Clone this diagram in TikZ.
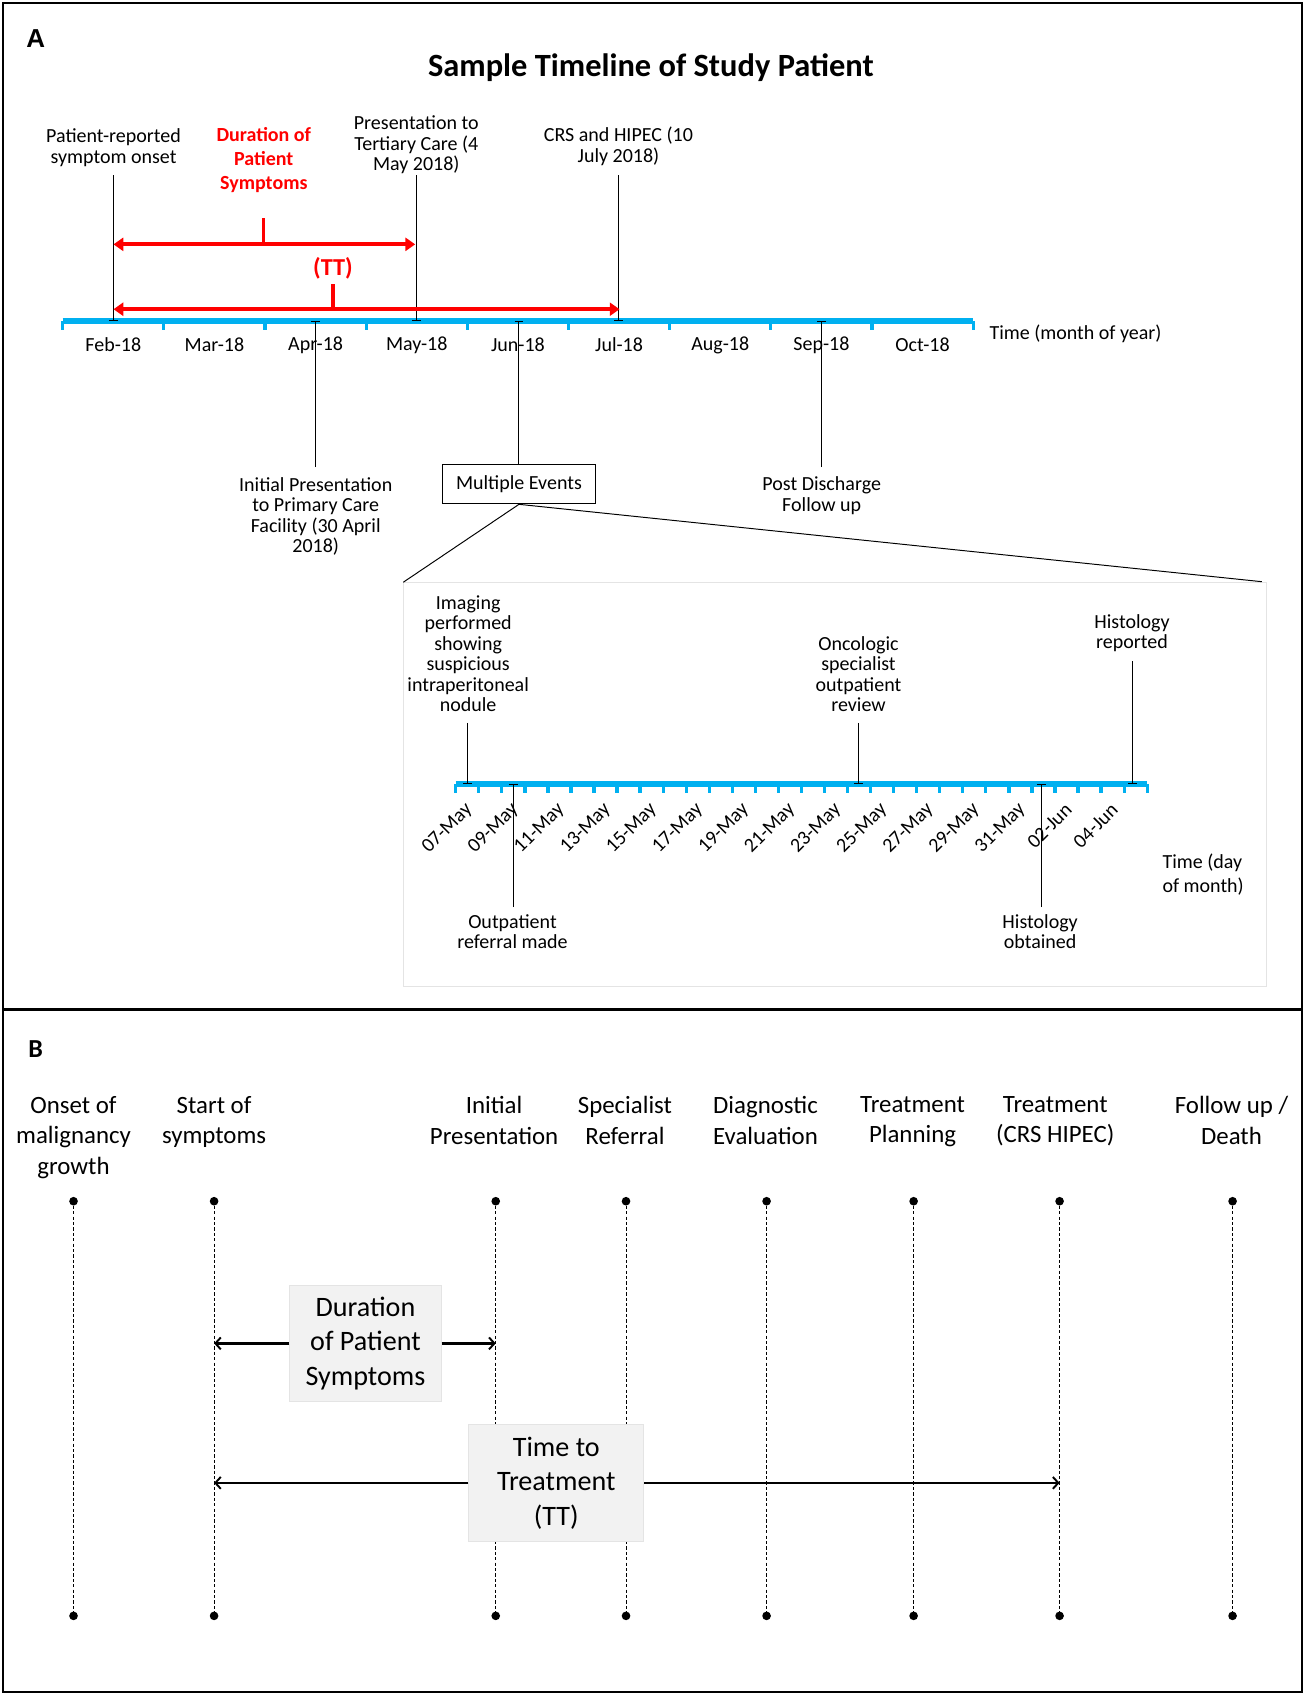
\documentclass[tikz,border=0pt]{standalone}
\usepackage{fontspec}
\setmainfont{Carlito}
\newfontfamily\arialfont{Liberation Sans}
\usetikzlibrary{arrows.meta}
\definecolor{axisblue}{RGB}{0,176,240}
\definecolor{boxgray}{RGB}{242,242,242}
\definecolor{boxline}{RGB}{228,228,228}
\definecolor{zoomgray}{RGB}{228,228,228}
\definecolor{tlred}{RGB}{255,0,0}
\begin{document}
\begin{tikzpicture}[x=1pt,y=-1pt,
  lbl/.style={font=\fontsize{18.5}{19}\selectfont, align=center, inner sep=0pt},
  redlbl/.style={font=\fontsize{18.5}{22}\selectfont\bfseries, text=tlred, align=center, inner sep=0pt},
  blbl/.style={font=\fontsize{23}{28}\selectfont, align=center, inner sep=0pt},
  graybox/.style={font=\fontsize{26}{32}\selectfont, align=center, fill=boxgray, draw=boxline, line width=0.8pt, inner sep=0pt},
  evcap/.style={line width=0.9pt, -{Bar[width=8pt,line width=1.2pt]}},
  bluemain/.style={axisblue, line width=5pt},
  bluetick/.style={axisblue, line width=3pt},
  redarrow/.style={tlred, line width=3.5pt, {Triangle[length=9pt,width=12pt]}-{Triangle[length=9pt,width=12pt]}},
  redstub/.style={tlred, line width=3pt},
  dashv/.style={dash pattern=on 3pt off 2pt, line width=0.6pt},
  barrow/.style={line width=2.5pt, -{Straight Barb[length=5pt,width=11pt,line width=1.8pt]}},
  dotn/.style={circle, fill=black, inner sep=0pt, minimum size=8pt}
]
\useasboundingbox (0,0) rectangle (1207,1567.7);
% frame
\draw[line width=1.5pt] (3,3) rectangle (1204,1565);
\coordinate (sepL) at (3,934);
\coordinate (sepR) at (1204,934);
\draw[line width=3pt] (sepL) -- (sepR);

% ===== Panel A =====
\node[font=\arialfont\bfseries\fontsize{24}{26}\selectfont, inner sep=0pt] (labA) at (33,36) {A};
\node[font=\fontsize{30}{34}\selectfont\bfseries, inner sep=0pt] (title) at (602,63) {Sample Timeline of Study Patient};

% month axis
\coordinate (axL) at (58,297);
\coordinate (axR) at (900,297);
\draw[bluemain] (axL) -- (axR);
\foreach \i in {0,...,9} \draw[bluetick] (58+93.56*\i,297) -- ++(0,8);
\foreach \m [count=\i from 0] in {Feb,Mar,Apr,May,Jun,Jul,Aug,Sep,Oct}
  \node[lbl] (mon\i) at (58+93.56*\i+46.78,319) {\m-18};
\node[lbl, anchor=west] (timeM) at (915,309) {Time (month of year)};

% events above
\node[lbl] (evPR) at (105,136.5) {Patient-reported\\symptom onset};
\node[lbl] (evTC) at (385,134) {Presentation to\\Tertiary Care (4\\May 2018)};
\node[lbl] (evCRS) at (572,135.5) {CRS and HIPEC (10\\July 2018)};
\coordinate (tPR) at (105,162); \coordinate (aPR) at (105,297);
\coordinate (tTC) at (385,162); \coordinate (aTC) at (385,297);
\coordinate (tCRS) at (572,162); \coordinate (aCRS) at (572,297);
\draw[evcap] (tPR) -- (aPR);
\draw[evcap] (tTC) -- (aTC);
\draw[evcap] (tCRS) -- (aCRS);

% red annotations
\node[redlbl] (durA) at (244,148) {Duration of\\Patient\\Symptoms};
\node[redlbl, font=\fontsize{22.5}{24}\selectfont\bfseries] (ttA) at (308,248) {(TT)};
\coordinate (r1L) at (105,226); \coordinate (r1R) at (384,226);
\coordinate (r2L) at (105,286); \coordinate (r2R) at (573,286);
\draw[redarrow] (r1L) -- (r1R);
\draw[redarrow] (r2L) -- (r2R);
\coordinate (s1T) at (244,202); \coordinate (s1B) at (244,226);
\coordinate (s2T) at (308,263); \coordinate (s2B) at (308,286);
\draw[redstub] (s1T) -- (s1B);
\draw[redstub] (s2T) -- (s2B);

% events below
\node[lbl] (evIP) at (292,477.5) {Initial Presentation\\to Primary Care\\Facility (30 April\\2018)};
\node[lbl, draw, line width=0.9pt, minimum width=141pt, minimum height=36pt] (me) at (480,448) {Multiple Events};
\node[lbl] (evPD) at (760,458.5) {Post Discharge\\Follow up};
\coordinate (bIP) at (292,432); \coordinate (aIP) at (292,297);
\coordinate (aME) at (480,297);
\coordinate (bPD) at (760,432); \coordinate (aPD) at (760,297);
\draw[evcap] (bIP) -- (aIP);
\draw[evcap] (me.north) -- (aME);
\draw[evcap] (bPD) -- (aPD);

% zoom box
\node[draw=zoomgray, line width=0.8pt, minimum width=798pt, minimum height=373pt, inner sep=0pt, anchor=north west] (zb) at (373,538.5) {};
\coordinate (zR) at (1167,538);
\draw[line width=0.9pt] (me.south) -- (zb.north west);
\draw[line width=0.9pt] (me.south) -- (zR);

% day axis
\coordinate (dL) at (421.5,725);
\coordinate (dR) at (1061,725);
\draw[bluemain] (dL) -- (dR);
\foreach \i in {0,...,30} \draw[bluetick] (421.5+21.317*\i,725) -- ++(0,8);
\foreach \d [count=\k from 0] in {07-May,09-May,11-May,13-May,15-May,17-May,19-May,21-May,23-May,25-May,27-May,29-May,31-May,02-Jun,04-Jun}
  \node[lbl, anchor=east, rotate=45, inner sep=0pt] (day\k) at (421.5+21.317*2*\k+10.66+2,746) {\d};
\node[lbl, anchor=west, align=left, font=\fontsize{18.5}{22}\selectfont] (timeD) at (1075,809) {Time (day\\of month)};

% inner events
\node[lbl] (evIm) at (433,604.5) {Imaging\\performed\\showing\\suspicious\\intraperitoneal\\nodule};
\node[lbl] (evOn) at (794,623.5) {Oncologic\\specialist\\outpatient\\review};
\node[lbl] (evHR) at (1047,585.5) {Histology\\reported};
\node[lbl] (evOR) at (474,861.5) {Outpatient\\referral made};
\node[lbl] (evHO) at (962,861.5) {Histology\\obtained};
\coordinate (tIm) at (432.2,668.5); \coordinate (aIm) at (432.2,725);
\coordinate (tOn) at (794,668.5); \coordinate (aOn) at (794,725);
\coordinate (tHR) at (1047.7,611.5); \coordinate (aHR) at (1047.7,725);
\coordinate (bOR) at (475,839); \coordinate (aOR) at (475,725);
\coordinate (bHO) at (963.5,839); \coordinate (aHO) at (963.5,725);
\draw[evcap] (tIm) -- (aIm);
\draw[evcap] (tOn) -- (aOn);
\draw[evcap] (tHR) -- (aHR);
\draw[evcap] (bOR) -- (aOR);
\draw[evcap] (bHO) -- (aHO);

% ===== Panel B =====
\node[font=\fontsize{24}{26}\selectfont\bfseries, inner sep=0pt] (labB) at (33,970) {B};
\foreach \x/\t [count=\c] in {68/{Onset of\\malignancy\\growth},198/{Start of\\symptoms},457/{Initial\\Presentation},578/{Specialist\\Referral},708/{Diagnostic\\Evaluation},844/{Treatment\\Planning},976/{Treatment\\(CRS HIPEC)},1139/{Follow up /\\Death}}
  \node[blbl, anchor=north] (bl\c) at (\x,1014) {\t};
\foreach \x [count=\c] in {68,198,458.5,579,709,845,980,1140}{
  \node[dotn] (tp\c) at (\x,1111) {};
  \node[dotn] (bt\c) at (\x,1494.5) {};
  \draw[dashv] (tp\c) -- (bt\c);
}
\node[graybox, minimum width=140pt, minimum height=108pt] (durB) at (338,1242.5) {Duration\\of Patient\\Symptoms};
\node[graybox, minimum width=162pt, minimum height=108pt] (ttB) at (514.5,1371.5) {Time to\\Treatment\\(TT)};
\draw[barrow] (durB.west) -- (durB.west -| tp2);
\draw[barrow] (durB.east) -- (durB.east -| tp3);
\draw[barrow] (ttB.west) -- (ttB.west -| tp2);
\draw[barrow] (ttB.east) -- (ttB.east -| tp7);
\end{tikzpicture}
\end{document}
